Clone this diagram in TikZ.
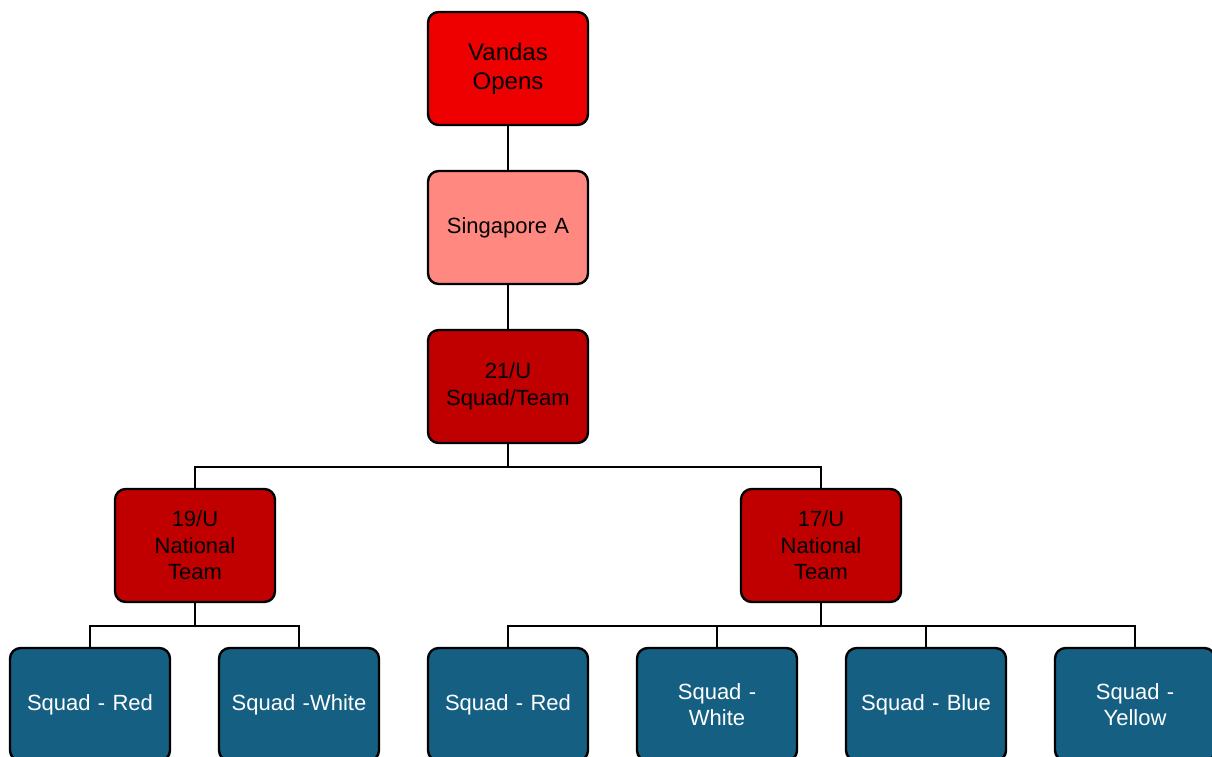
\documentclass[tikz,border=0pt]{standalone}
\usepackage{fontspec}
\setmainfont{Liberation Sans}
\usetikzlibrary{positioning}
\definecolor{topred}{RGB}{238,0,0}
\definecolor{pinkred}{RGB}{255,137,128}
\definecolor{darkred}{RGB}{192,0,0}
\definecolor{squadblue}{RGB}{21,96,130}
\tikzset{
  box/.style={draw, line width=1.8pt, rounded corners=8pt, align=center,
    minimum width=120pt, minimum height=84.75pt, text width=110pt,
    font=\fontsize{16.5}{19.8}\selectfont}, % every box of the chart
  redbox/.style={box, fill=darkred},
  squad/.style={box, fill=squadblue, text=white},
  link/.style={line width=1.2pt}, % the connectors
}
\begin{document}
\begin{tikzpicture}[x=0.75pt, y=-0.75pt]
  \clip (0,0) rectangle (1212,756);
  \fill[white] (0,0) rectangle (1212,756);

  \node[box, fill=topred, font=\fontsize{18}{21.6}\selectfont] (vandas) at (508,68.5) {Vandas\\Opens};
  \node[box, fill=pinkred] (singa) at (508,227.5) {Singapore A};
  \node[redbox] (u21) at (508,386.5) {21/U\\Squad/Team};

  \node[redbox] (u19) at (195,545.5) {19/U\\National\\Team};
  \node[redbox] (u17) at (821,545.5) {17/U\\National\\Team};

  \node[squad] (red19) at (90,704.5) {Squad - Red};
  \node[squad] (white19) at (299,704.5) {Squad -White};
  \node[squad] (red17) at (508,704.5) {Squad - Red};
  \node[squad] (white17) at (717,704.5) {Squad -\\White};
  \node[squad] (blue17) at (926,704.5) {Squad - Blue};
  \node[squad] (yellow17) at (1135,704.5) {Squad -\\Yellow};

  \draw[link] (vandas) -- (singa);
  \draw[link] (singa) -- (u21);
  \draw[link] (u21.south) -- ++(0,23) -| (u19.north);
  \draw[link] (u21.south) -- ++(0,23) -| (u17.north);

  \foreach \kid in {red19, white19}
    \draw[link] (u19.south) -- ++(0,23) -| (\kid.north);
  \foreach \kid in {red17, white17, blue17, yellow17}
    \draw[link] (u17.south) -- ++(0,23) -| (\kid.north);
\end{tikzpicture}
\end{document}
